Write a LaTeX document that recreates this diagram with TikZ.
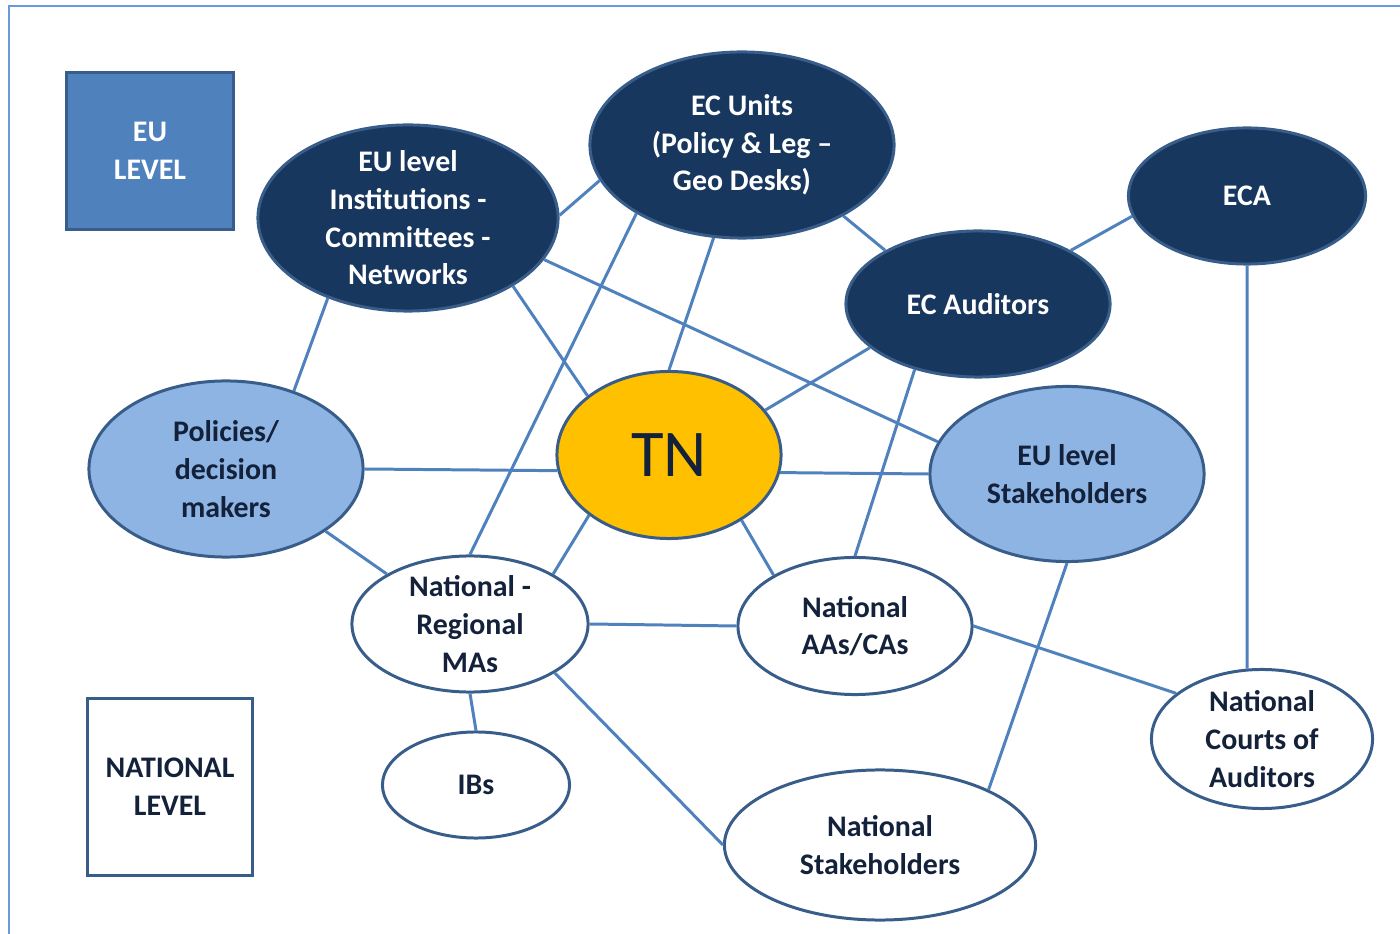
\documentclass[tikz,border=0pt]{standalone}
\usepackage{fontspec}
\setmainfont{Carlito}
\usetikzlibrary{shapes.geometric}
\definecolor{darkblue}{HTML}{17375E}
\definecolor{midblue}{HTML}{4F81BD}
\definecolor{lightblue}{HTML}{8DB4E2}
\definecolor{rimblue}{HTML}{385D8A}
\definecolor{frameblue}{HTML}{6A9AD8}
\definecolor{tnyellow}{HTML}{FFC000}
\definecolor{inkblue}{HTML}{13213A}

\begin{document}
\begin{tikzpicture}[x=0.01cm, y=-0.01cm,
  ell/.style={ellipse, draw=rimblue, line width=0.85pt, inner sep=-3mm, align=center,
    font=\fontsize{8.5}{10.7}\selectfont\bfseries},
  euell/.style={ell, fill=darkblue, text=white},
  lbell/.style={ell, fill=lightblue, text=inkblue},
  natell/.style={ell, fill=white, text=inkblue},
  levelbox/.style={draw=rimblue, line width=0.85pt, align=center,
    font=\fontsize{8.5}{10.7}\selectfont\bfseries},
  link/.style={midblue, line width=0.85pt}]
\useasboundingbox (0,0) rectangle (1400,934);
\clip (0,0) rectangle (1400,934);
\draw[frameblue, line width=0.6pt] (9,6) rectangle (1420,960);

% levels
\node[levelbox, fill=midblue, text=white, minimum width=1.66cm, minimum height=1.57cm] (eulevel) at (150,151) {EU\\LEVEL};
\node[levelbox, fill=white, text=inkblue, minimum width=1.65cm, minimum height=1.76cm] (natlevel) at (170,787) {NATIONAL\\LEVEL};

% EU level
\node[euell, minimum width=3cm, minimum height=1.86cm] (euinst) at (408,218) {EU level\\Institutions -\\Committees -\\Networks};
\node[euell, minimum width=3.04cm, minimum height=1.86cm] (ecunits) at (742,145) {EC Units\\(Policy \& Leg --\\Geo Desks)};
\node[euell, minimum width=2.37cm, minimum height=1.36cm] (eca) at (1247,196) {ECA};
\node[euell, minimum width=2.64cm, minimum height=1.46cm] (ecaud) at (978,304) {EC Auditors};
\node[lbell, minimum width=2.74cm, minimum height=1.76cm] (policies) at (226,469) {Policies/\\decision\\makers};
\node[lbell, minimum width=2.74cm, minimum height=1.75cm] (eustake) at (1067,474) {EU level\\Stakeholders};

% TN
\node[ellipse, draw=rimblue, fill=tnyellow, line width=0.85pt, inner sep=0pt, text=inkblue,
  font=\fontsize{19}{22}\selectfont, minimum width=2.24cm, minimum height=1.67cm] (tn) at (669,455) {TN};

% national level
\node[natell, minimum width=2.36cm, minimum height=1.36cm] (mas) at (470,624) {National -\\Regional\\MAs};
\node[natell, minimum width=2.34cm, minimum height=1.37cm] (aas) at (855,626) {National\\AAs/CAs};
\node[natell, minimum width=1.87cm, minimum height=1.06cm] (ibs) at (476,785) {IBs};
\node[natell, minimum width=3.11cm, minimum height=1.5cm] (natstake) at (880,845) {National\\Stakeholders};
\node[natell, minimum width=2.21cm, minimum height=1.39cm] (courts) at (1262,739) {National\\Courts of\\Auditors};

% links
\draw[link] (policies.49) -- (euinst.225);
\draw[link] (policies.east) -- (tn.188);
\draw[link] (policies.328) -- (mas.149);
\draw[link] (euinst.1) -- (ecunits.194);
\draw[link] (euinst.327) -- (tn.144);
\draw[link] (euinst.343) -- (eustake.166);
\draw[link] (ecunits.253) -- (tn.north);
\draw[link] (ecunits.213) -- (mas.north);
\draw[link] (ecunits.325) -- (ecaud.150);
\draw[link] (eca.190) -- (ecaud.30);
\draw[link] (eca.south) -- (courts.102);
\draw[link] (ecaud.202) -- (tn.25);
\draw[link] (ecaud.226) -- (aas.north);
\draw[link] (tn.351) -- (eustake.west);
\draw[link] (tn.217) -- (mas.31);
\draw[link] (tn.318) -- (aas.148);
\draw[link] (mas.east) -- (aas.west);
\draw[link] (mas.south) -- (ibs.north);
\draw[link] (mas.330) -- (natstake.west);
\draw[link] (aas.east) -- (courts.152);
\draw[link] (eustake.south) -- (natstake.27);
\end{tikzpicture}
\end{document}
